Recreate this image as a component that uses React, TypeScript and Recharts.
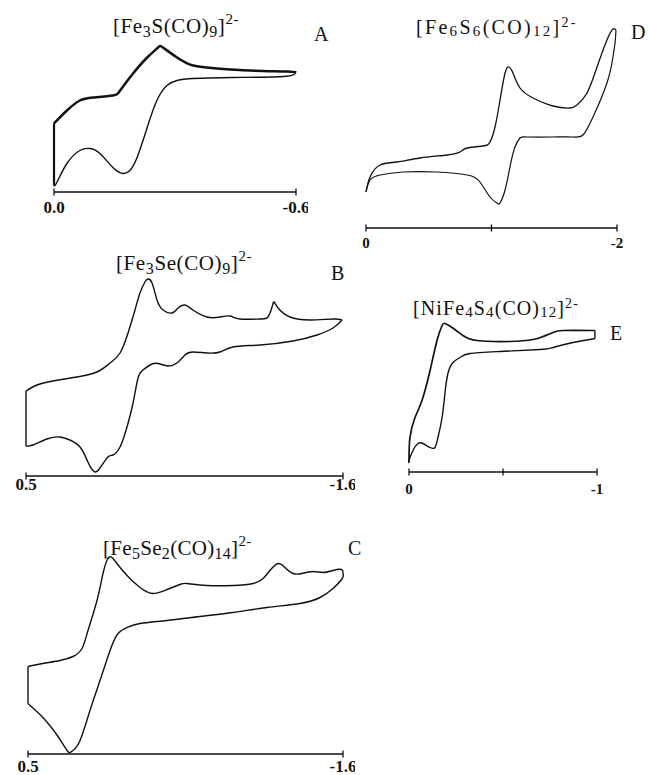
import React from 'react';
import { LineChart, Line, XAxis, YAxis } from 'recharts';

type Pt = { e: number; i: number };

const SERIF = '"Liberation Serif", "DejaVu Serif", serif';

// ---------- Panel A : [Fe3S(CO)9]2-  (E / V, current arb. units) ----------
const aTicks = [0, -0.6];
const aTickLabels = ['0.0', '-0.6'];
const aUpper: Pt[] = [
  { e: 0.0, i: 6.85 }, { e: -0.032, i: 8.15 }, { e: -0.064, i: 9.15 }, { e: -0.097, i: 9.45 },
  { e: -0.146, i: 9.65 }, { e: -0.164, i: 10.15 }, { e: -0.196, i: 11.85 }, { e: -0.231, i: 13.45 },
  { e: -0.258, i: 14.45 }, { e: -0.27, i: 14.45 }, { e: -0.305, i: 13.45 }, { e: -0.345, i: 12.65 },
  { e: -0.404, i: 12.35 }, { e: -0.486, i: 12.15 }, { e: -0.578, i: 12.05 }, { e: -0.6, i: 11.95 },
];
const aLower: Pt[] = [
  { e: -0.6, i: 11.95 }, { e: -0.568, i: 11.55 }, { e: -0.444, i: 11.45 }, { e: -0.345, i: 11.35 },
  { e: -0.305, i: 11.15 }, { e: -0.28, i: 10.65 }, { e: -0.255, i: 9.15 }, { e: -0.231, i: 6.45 },
  { e: -0.206, i: 3.45 }, { e: -0.188, i: 2.15 }, { e: -0.171, i: 1.85 }, { e: -0.146, i: 2.45 },
  { e: -0.114, i: 3.85 }, { e: -0.089, i: 4.35 }, { e: -0.064, i: 4.15 }, { e: -0.032, i: 2.85 },
  { e: -0.007, i: 0.95 }, { e: 0.0, i: 0.65 },
];
const aStart: Pt[] = [{ e: 0.0, i: 0.65 }, { e: 0.0, i: 6.85 }];

// ---------- Panel B : [Fe3Se(CO)9]2- ----------
const bTicks = [0.5, -1.6];
const bTickLabels = ['0.5', '-1.6'];
const bUpper: Pt[] = [
  { e: 0.5, i: 8.5 }, { e: 0.427, i: 9.1 }, { e: 0.321, i: 9.5 }, { e: 0.162, i: 9.9 },
  { e: 0.03, i: 10.4 }, { e: -0.057, i: 11.3 }, { e: -0.123, i: 12.3 }, { e: -0.176, i: 14.3 },
  { e: -0.222, i: 16.6 }, { e: -0.255, i: 18.3 }, { e: -0.288, i: 19.4 }, { e: -0.308, i: 19.7 },
  { e: -0.335, i: 19.3 }, { e: -0.368, i: 17.6 }, { e: -0.408, i: 16.6 }, { e: -0.467, i: 16.3 },
  { e: -0.507, i: 16.8 }, { e: -0.553, i: 17.1 }, { e: -0.606, i: 16.6 }, { e: -0.699, i: 15.9 },
  { e: -0.785, i: 15.9 }, { e: -0.852, i: 16.0 }, { e: -0.918, i: 15.7 }, { e: -1.05, i: 15.7 },
  { e: -1.103, i: 15.9 }, { e: -1.13, i: 16.9 }, { e: -1.143, i: 17.4 }, { e: -1.17, i: 16.8 },
  { e: -1.249, i: 15.9 }, { e: -1.382, i: 15.6 }, { e: -1.534, i: 15.7 }, { e: -1.594, i: 15.6 },
];
const bLower: Pt[] = [
  { e: -1.594, i: 15.6 }, { e: -1.534, i: 14.8 }, { e: -1.428, i: 14.1 }, { e: -1.269, i: 13.5 },
  { e: -1.05, i: 13.1 }, { e: -0.871, i: 12.9 }, { e: -0.785, i: 12.4 }, { e: -0.699, i: 12.3 },
  { e: -0.606, i: 12.4 }, { e: -0.553, i: 12.1 }, { e: -0.5, i: 11.3 }, { e: -0.441, i: 11.0 },
  { e: -0.388, i: 11.2 }, { e: -0.335, i: 11.2 }, { e: -0.275, i: 10.6 }, { e: -0.242, i: 9.8 },
  { e: -0.209, i: 7.3 }, { e: -0.169, i: 4.9 }, { e: -0.123, i: 2.9 }, { e: -0.076, i: 2.1 },
  { e: -0.043, i: 1.9 }, { e: 0.01, i: 0.8 }, { e: 0.043, i: 0.4 }, { e: 0.069, i: 0.8 },
  { e: 0.096, i: 1.6 }, { e: 0.142, i: 2.9 }, { e: 0.209, i: 3.6 }, { e: 0.275, i: 3.9 },
  { e: 0.361, i: 3.7 }, { e: 0.454, i: 3.1 }, { e: 0.5, i: 3.0 },
];
const bStart: Pt[] = [{ e: 0.5, i: 3.0 }, { e: 0.5, i: 8.5 }];

// ---------- Panel C : [Fe5Se2(CO)14]2- ----------
const cTicks = [0.5, -1.6];
const cTickLabels = ['0.5', '-1.6'];
const cUpper: Pt[] = [
  { e: 0.5, i: 8.75 }, { e: 0.4, i: 9.05 }, { e: 0.287, i: 9.35 }, { e: 0.2, i: 9.75 },
  { e: 0.14, i: 10.55 }, { e: 0.1, i: 12.35 }, { e: 0.04, i: 15.35 }, { e: 0.0, i: 18.05 },
  { e: -0.033, i: 19.55 }, { e: -0.06, i: 19.65 }, { e: -0.093, i: 19.05 }, { e: -0.16, i: 17.85 },
  { e: -0.247, i: 16.65 }, { e: -0.333, i: 16.05 }, { e: -0.427, i: 16.45 }, { e: -0.513, i: 16.95 },
  { e: -0.56, i: 17.05 }, { e: -0.693, i: 16.85 }, { e: -0.867, i: 16.85 }, { e: -1.0, i: 17.05 },
  { e: -1.067, i: 17.55 }, { e: -1.113, i: 18.35 }, { e: -1.167, i: 19.05 }, { e: -1.213, i: 18.65 },
  { e: -1.267, i: 18.05 }, { e: -1.327, i: 18.05 }, { e: -1.4, i: 18.25 }, { e: -1.467, i: 18.15 },
  { e: -1.533, i: 18.35 }, { e: -1.59, i: 18.45 }, { e: -1.6, i: 18.05 },
];
const cLower: Pt[] = [
  { e: -1.6, i: 18.05 }, { e: -1.595, i: 17.55 }, { e: -1.533, i: 16.55 }, { e: -1.447, i: 15.65 },
  { e: -1.313, i: 15.05 }, { e: -1.093, i: 14.65 }, { e: -0.867, i: 14.15 }, { e: -0.647, i: 13.75 },
  { e: -0.427, i: 13.35 }, { e: -0.247, i: 13.05 }, { e: -0.16, i: 12.65 }, { e: -0.1, i: 12.05 },
  { e: -0.047, i: 10.35 }, { e: 0.02, i: 7.35 }, { e: 0.087, i: 4.35 }, { e: 0.153, i: 1.35 },
  { e: 0.2, i: 0.35 }, { e: 0.22, i: 0.15 }, { e: 0.24, i: 0.35 }, { e: 0.3, i: 1.75 },
  { e: 0.36, i: 2.95 }, { e: 0.42, i: 3.95 }, { e: 0.467, i: 4.6 }, { e: 0.5, i: 5.05 },
];
const cStart: Pt[] = [{ e: 0.5, i: 5.05 }, { e: 0.5, i: 8.75 }];

// ---------- Panel D : [Fe6S6(CO)12]2- ----------
const dTicks = [0, -1, -2];
const dTickLabels = ['0', '', '-2'];
const dUpper: Pt[] = [
  { e: 0.0, i: 3.6 }, { e: -0.032, i: 5.1 }, { e: -0.112, i: 6.3 }, { e: -0.247, i: 6.6 },
  { e: -0.43, i: 7.0 }, { e: -0.645, i: 7.3 }, { e: -0.749, i: 7.6 }, { e: -0.805, i: 8.0 },
  { e: -0.932, i: 8.2 }, { e: -0.988, i: 8.6 }, { e: -1.028, i: 10.1 }, { e: -1.068, i: 12.8 },
  { e: -1.108, i: 15.5 }, { e: -1.139, i: 16.1 }, { e: -1.171, i: 15.5 }, { e: -1.227, i: 14.0 },
  { e: -1.331, i: 13.0 }, { e: -1.49, i: 12.2 }, { e: -1.625, i: 12.0 }, { e: -1.681, i: 12.3 },
  { e: -1.761, i: 13.5 }, { e: -1.841, i: 16.1 }, { e: -1.92, i: 18.8 }, { e: -1.968, i: 19.9 },
  { e: -1.992, i: 19.8 },
];
const dLower: Pt[] = [
  { e: -1.992, i: 19.8 }, { e: -1.985, i: 18.6 }, { e: -1.968, i: 17.1 }, { e: -1.92, i: 14.5 },
  { e: -1.809, i: 11.1 }, { e: -1.729, i: 9.3 }, { e: -1.649, i: 9.1 }, { e: -1.49, i: 9.1 },
  { e: -1.283, i: 9.1 }, { e: -1.227, i: 9.0 }, { e: -1.187, i: 8.1 }, { e: -1.147, i: 6.1 },
  { e: -1.108, i: 3.8 }, { e: -1.068, i: 2.5 }, { e: -1.044, i: 2.5 }, { e: -0.988, i: 3.1 },
  { e: -0.908, i: 4.6 }, { e: -0.805, i: 5.3 }, { e: -0.566, i: 5.6 }, { e: -0.295, i: 5.6 },
  { e: -0.112, i: 5.3 }, { e: -0.032, i: 4.8 }, { e: 0.0, i: 3.6 },
];

// ---------- Panel E : [NiFe4S4(CO)12]2- ----------
const eTicks = [0, -0.5, -1];
const eTickLabels = ['0', '', '-1'];
const eUpper: Pt[] = [
  { e: 0.0, i: 0.95 }, { e: -0.005, i: 3.45 }, { e: -0.032, i: 5.45 }, { e: -0.069, i: 7.15 },
  { e: -0.112, i: 10.15 }, { e: -0.149, i: 13.15 }, { e: -0.176, i: 14.65 }, { e: -0.191, i: 14.85 },
  { e: -0.229, i: 14.45 }, { e: -0.287, i: 13.65 }, { e: -0.362, i: 13.15 }, { e: -0.537, i: 13.05 },
  { e: -0.66, i: 13.25 }, { e: -0.713, i: 13.55 }, { e: -0.766, i: 13.95 }, { e: -0.819, i: 14.15 },
  { e: -0.989, i: 14.15 },
];
const eTurn: Pt[] = [{ e: -0.989, i: 14.15 }, { e: -0.989, i: 13.35 }];
const eLower: Pt[] = [
  { e: -0.989, i: 13.35 }, { e: -0.872, i: 12.95 }, { e: -0.766, i: 12.45 }, { e: -0.697, i: 12.25 },
  { e: -0.484, i: 12.05 }, { e: -0.324, i: 11.85 }, { e: -0.271, i: 11.45 }, { e: -0.234, i: 10.95 },
  { e: -0.207, i: 9.85 }, { e: -0.191, i: 7.85 }, { e: -0.176, i: 5.45 }, { e: -0.154, i: 3.45 },
  { e: -0.138, i: 2.45 }, { e: -0.112, i: 2.45 }, { e: -0.074, i: 2.85 }, { e: -0.048, i: 2.85 },
  { e: -0.021, i: 2.15 }, { e: 0.0, i: 1.15 }, { e: 0.0, i: 0.95 },
];

type Series = { data: Pt[]; width: number; curve: 'natural' | 'linear' };

interface PanelProps {
  x0: number;
  x1: number;
  axisY: number;
  yMax: number;
  domain: [number, number];
  ticks: number[];
  tickLabels: string[];
  labelDy: number;
  labelSize: number;
  series: Series[];
}

function Panel(p: PanelProps) {
  const P = 12;
  const plotW = p.x1 - p.x0;
  const plotH = p.yMax * 10;
  const top = p.axisY - plotH;
  const W = plotW + 2 * P;
  const H = plotH + P + 30;
  const renderTick = (props: any) => {
    const { x, y, payload } = props;
    const idx = p.ticks.indexOf(payload.value);
    const lab = idx >= 0 ? p.tickLabels[idx] : '';
    return (
      <g>
        <line x1={x} x2={x} y1={y - 3.5} y2={y + 3.5} stroke="#111" strokeWidth={1.3} />
        {lab ? (
          <text x={x} y={y + p.labelDy} textAnchor="middle" fontSize={p.labelSize} fontFamily={SERIF} fontWeight={600} fill="#111">
            {lab}
          </text>
        ) : null}
      </g>
    );
  };
  return (
    <div style={{ position: 'absolute', left: p.x0 - P, top: top - P, width: W, height: H }}>
      <LineChart width={W} height={H} margin={{ top: P, right: P, bottom: 0, left: P }}>
        <XAxis
          type="number"
          dataKey="e"
          domain={p.domain}
          reversed
          ticks={p.ticks}
          interval={0}
          height={30}
          tickLine={false}
          tickSize={0}
          tickMargin={0}
          axisLine={{ stroke: '#111', strokeWidth: 1.4 }}
          tick={renderTick}
        />
        <YAxis type="number" domain={[0, p.yMax]} hide />
        {p.series.map((s, k) => (
          <Line
            key={k}
            data={s.data}
            dataKey="i"
            type={s.curve}
            stroke="#111"
            strokeWidth={s.width}
            dot={false}
            activeDot={false}
            isAnimationActive={false}
          />
        ))}
      </LineChart>
    </div>
  );
}

export default function App() {
  return (
    <div style={{ position: 'absolute', left: 0, top: 0, width: 648, height: 775, background: '#fff', overflow: 'hidden' }}>
      <Panel
        x0={54} x1={296} axisY={191.5} yMax={17} domain={[-0.6, 0]}
        ticks={aTicks} tickLabels={aTickLabels} labelDy={21} labelSize={17}
        series={[
          { data: aUpper, width: 2.5, curve: 'natural' },
          { data: aLower, width: 1.4, curve: 'natural' },
          { data: aStart, width: 2.2, curve: 'linear' },
        ]}
      />
      <Panel
        x0={26} x1={343} axisY={476} yMax={21} domain={[-1.6, 0.5]}
        ticks={bTicks} tickLabels={bTickLabels} labelDy={14} labelSize={17}
        series={[
          { data: bUpper, width: 1.4, curve: 'natural' },
          { data: bLower, width: 1.4, curve: 'natural' },
          { data: bStart, width: 1.4, curve: 'linear' },
        ]}
      />
      <Panel
        x0={28} x1={343} axisY={753.5} yMax={21} domain={[-1.6, 0.5]}
        ticks={cTicks} tickLabels={cTickLabels} labelDy={18} labelSize={17}
        series={[
          { data: cUpper, width: 1.4, curve: 'natural' },
          { data: cLower, width: 1.4, curve: 'natural' },
          { data: cStart, width: 1.4, curve: 'linear' },
        ]}
      />
      <Panel
        x0={366} x1={617} axisY={228} yMax={21} domain={[-2, 0]}
        ticks={dTicks} tickLabels={dTickLabels} labelDy={20} labelSize={15}
        series={[
          { data: dUpper, width: 1.3, curve: 'natural' },
          { data: dLower, width: 1.2, curve: 'natural' },
        ]}
      />
      <Panel
        x0={409} x1={597} axisY={471.5} yMax={16} domain={[-1, 0]}
        ticks={eTicks} tickLabels={eTickLabels} labelDy={22} labelSize={15}
        series={[
          { data: eUpper, width: 1.7, curve: 'natural' },
          { data: eTurn, width: 1.4, curve: 'linear' },
          { data: eLower, width: 1.4, curve: 'natural' },
        ]}
      />
      <svg width={648} height={775} style={{ position: 'absolute', left: 0, top: 0, pointerEvents: 'none' }}>
        <g fontFamily={SERIF} fill="#111">
          <text x={113} y={33} fontSize={21} letterSpacing={0.6}>
            [Fe<tspan dy={4} fontSize={16}>3</tspan>
            <tspan dy={-4}>S(CO)</tspan>
            <tspan dy={4} fontSize={16}>9</tspan>
            <tspan dy={-4}>]</tspan>
            <tspan dy={-9} fontSize={15}>2-</tspan>
          </text>
          <text x={314} y={41} fontSize={20}>A</text>

          <text x={116} y={270} fontSize={21} letterSpacing={0.6}>
            [Fe<tspan dy={4} fontSize={16}>3</tspan>
            <tspan dy={-4}>Se(CO)</tspan>
            <tspan dy={4} fontSize={16}>9</tspan>
            <tspan dy={-4}>]</tspan>
            <tspan dy={-9} fontSize={15}>2-</tspan>
          </text>
          <text x={331} y={280} fontSize={20}>B</text>

          <text x={103} y={555} fontSize={21} letterSpacing={0.3}>
            [Fe<tspan dy={4} fontSize={16}>5</tspan>
            <tspan dy={-4}>Se</tspan>
            <tspan dy={4} fontSize={16}>2</tspan>
            <tspan dy={-4}>(CO)</tspan>
            <tspan dy={4} fontSize={16}>14</tspan>
            <tspan dy={-4}>]</tspan>
            <tspan dy={-9} fontSize={15}>2-</tspan>
          </text>
          <text x={348} y={555} fontSize={20}>C</text>

          <text x={416} y={34} fontSize={20} letterSpacing={2.3}>
            [Fe<tspan dy={2} fontSize={15}>6</tspan>
            <tspan dy={-2}>S</tspan>
            <tspan dy={2} fontSize={15}>6</tspan>
            <tspan dy={-2}>(CO)</tspan>
            <tspan dy={2} fontSize={15}>12</tspan>
            <tspan dy={-2}>]</tspan>
            <tspan dy={-7} fontSize={14}>2-</tspan>
          </text>
          <text x={631} y={39} fontSize={20}>D</text>

          <text x={413} y={315} fontSize={20} letterSpacing={1.1}>
            [NiFe<tspan dy={2} fontSize={15}>4</tspan>
            <tspan dy={-2}>S</tspan>
            <tspan dy={2} fontSize={15}>4</tspan>
            <tspan dy={-2}>(CO)</tspan>
            <tspan dy={2} fontSize={15}>12</tspan>
            <tspan dy={-2}>]</tspan>
            <tspan dy={-7} fontSize={14}>2-</tspan>
          </text>
          <text x={610} y={340} fontSize={20}>E</text>
        </g>
      </svg>
    </div>
  );
}
